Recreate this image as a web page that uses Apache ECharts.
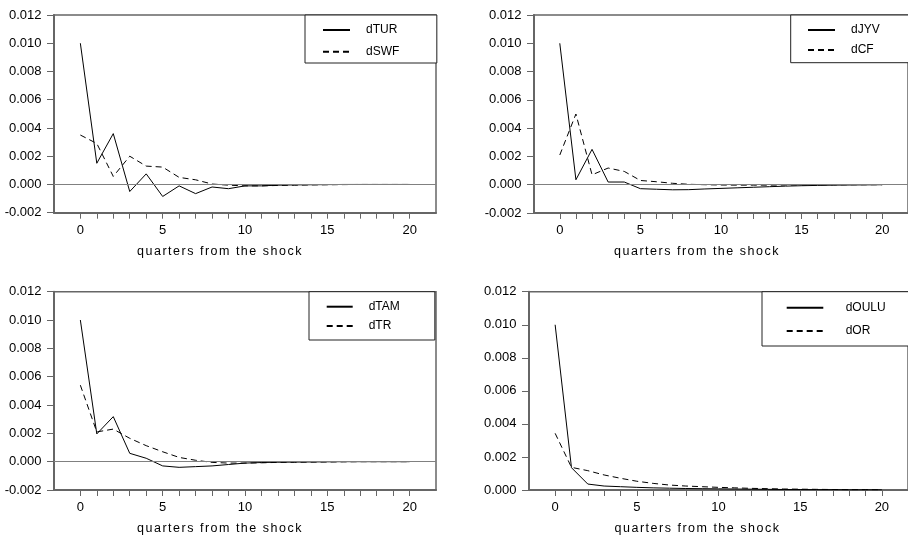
<!DOCTYPE html>
<html>
<head>
<meta charset="utf-8">
<title>Impulse responses</title>
<script src="https://cdn.jsdelivr.net/npm/echarts@6/dist/echarts.min.js"></script>
<style>
  html, body { margin: 0; padding: 0; background: #fff; }
  #chart { width: 908px; height: 540px; }
</style>
</head>
<body>
<div id="chart"></div>
<script>
// Horizon in quarters after the shock
const quarters = [0, 1, 2, 3, 4, 5, 6, 7, 8, 9, 10, 11, 12, 13, 14, 15, 16, 17, 18, 19, 20];

// Responses, one pair per panel
const dTUR  = [0.0100, 0.0015, 0.0036, -0.0005, 0.00075, -0.00085, -0.0001, -0.00065, -0.00018, -0.0003, -0.0001, -0.0001, -0.00005, -0.00003, -0.00002, -0.00001, 0, 0, 0, 0, 0];
const dSWF  = [0.0035, 0.0029, 0.00057, 0.0020, 0.0013, 0.00123, 0.0005, 0.00033, 0.00003, -0.00005, -0.0001, -0.0001, -0.00007, -0.00005, -0.00003, -0.00002, -0.00001, 0, 0, 0, 0];
const dJYV  = [0.0100, 0.00035, 0.0025, 0.00019, 0.00019, -0.00028, -0.00032, -0.00036, -0.00035, -0.0003, -0.00026, -0.00022, -0.00018, -0.00014, -0.0001, -0.00007, -0.00005, -0.00003, -0.00002, -0.00001, 0];
const dCF   = [0.0021, 0.0050, 0.0007, 0.00118, 0.00094, 0.0003, 0.00021, 0.0001, 0.00003, 0, -0.00002, -0.00003, -0.00003, -0.00003, -0.00002, -0.00002, -0.00001, -0.00001, 0, 0, 0];
const dTAM  = [0.0100, 0.00196, 0.00318, 0.00059, 0.00024, -0.0003, -0.0004, -0.00035, -0.0003, -0.0002, -0.0001, -0.00006, -0.00004, -0.00003, -0.00002, -0.00001, 0, 0, 0, 0, 0];
const dTR   = [0.0054, 0.0021, 0.0023, 0.00165, 0.00113, 0.0007, 0.0003, 0.0001, -0.00005, -0.0001, -0.0001, -0.00008, -0.00005, -0.00004, -0.00003, -0.00002, -0.00001, 0, 0, 0, 0];
const dOULU = [0.0100, 0.00135, 0.00036, 0.00024, 0.0002, 0.00016, 0.00013, 0.00011, 0.00009, 0.00008, 0.00007, 0.00006, 0.00005, 0.00004, 0.00003, 0.00003, 0.00002, 0.00002, 0.00001, 0.00001, 0.00001];
const dOR   = [0.00343, 0.00137, 0.00117, 0.00091, 0.00071, 0.00053, 0.0004, 0.0003, 0.00024, 0.0002, 0.00016, 0.00013, 0.0001, 0.00008, 0.00006, 0.00005, 0.00004, 0.00003, 0.00002, 0.00002, 0.00001];

// Tick positions and labels
const xLabelTicks = [0, 5, 10, 15, 20];
const xMinorTicks = quarters;
const xTitle = 'quarters from the shock';

// Each panel: solid series, dashed series, y range
const panels = [
  { solid: ['dTUR', dTUR],   dashed: ['dSWF', dSWF], yMin: -0.002, zeroLine: true },
  { solid: ['dJYV', dJYV],   dashed: ['dCF', dCF],   yMin: -0.002, zeroLine: true },
  { solid: ['dTAM', dTAM],   dashed: ['dTR', dTR],   yMin: -0.002, zeroLine: true },
  { solid: ['dOULU', dOULU], dashed: ['dOR', dOR],   yMin: 0,      zeroLine: false }
];

// Widen the tracking of the axis titles only (canvas supports it, zrender does not expose it)
(function () {
  const proto = CanvasRenderingContext2D.prototype;
  const baseFillText = proto.fillText;
  proto.fillText = function (text, x, y, maxWidth) {
    if (text === xTitle && 'letterSpacing' in this) {
      this.save();
      this.letterSpacing = '1.5px';
      baseFillText.call(this, text, x, y);
      this.restore();
      this.letterSpacing = '0px';
      return;
    }
    if ('letterSpacing' in this && this.letterSpacing !== '0px') this.letterSpacing = '0px';
    if (maxWidth === undefined) return baseFillText.call(this, text, x, y);
    return baseFillText.call(this, text, x, y, maxWidth);
  };
})();

const FONT = '"Liberation Sans", Arial, sans-serif';
const AXIS_COLOR = '#666';

const grids = [
  { left: 54,  top: 15,    width: 382, height: 197.7 },
  { left: 534, top: 15,    width: 381, height: 198 },
  { left: 54,  top: 291.7, width: 382, height: 198.3 },
  { left: 529, top: 291.7, width: 385, height: 198.3 }
];

const legendLayouts = [
  { left: 305,   top: 15,    padding: [9, 37.5, 5.3, 17], itemWidth: 27,   itemGap: 9.7,  textPad: 11 },
  { left: 790.7, top: 15,    padding: [9, 80, 6.7, 16.3], itemWidth: 27,   itemGap: 8,    textPad: 11 },
  { left: 309,   top: 291.7, padding: [9, 35, 8, 16.7],   itemWidth: 26,   itemGap: 7.3,  textPad: 11 },
  { left: 762,   top: 291.7, padding: [10, 80, 9, 23.7],  itemWidth: 36.6, itemGap: 11.3, textPad: 17.4 }
];

const titleShift = [25, 24, 25, 21];

function pairs(values) {
  return quarters.map((q, i) => [q, values[i]]);
}

const option = {
  animation: false,
  backgroundColor: '#fff',
  grid: grids.map(g => Object.assign({
    show: true,
    borderColor: AXIS_COLOR,
    borderWidth: 1.5,
    backgroundColor: 'transparent',
    containLabel: false
  }, g)),
  legend: panels.map((p, i) => {
    const l = legendLayouts[i];
    return {
      orient: 'vertical',
      left: l.left,
      top: l.top,
      padding: l.padding,
      itemWidth: l.itemWidth,
      itemHeight: 12,
      itemGap: l.itemGap,
      borderColor: '#222',
      borderWidth: 1,
      backgroundColor: '#fff',
      selectedMode: false,
      itemStyle: { opacity: 0 },
      data: [p.solid[0], p.dashed[0]],
      textStyle: {
        fontFamily: FONT,
        fontSize: 12,
        color: '#000',
        padding: [0, 0, 0, l.textPad]
      }
    };
  }),
  xAxis: panels.map((p, i) => ({
    type: 'value',
    gridIndex: i,
    min: -1.6,
    max: 21.6,
    splitLine: { show: false },
    axisLine: { show: true, onZero: false, lineStyle: { color: AXIS_COLOR, width: 2 } },
    axisTick: {
      show: true,
      inside: false,
      length: 6,
      customValues: xMinorTicks,
      lineStyle: { color: AXIS_COLOR, width: 1 }
    },
    axisLabel: {
      customValues: xLabelTicks,
      margin: 11,
      fontFamily: FONT,
      fontSize: 13,
      color: '#000'
    },
    name: xTitle,
    nameLocation: 'middle',
    nameGap: 32.5,
    nameTextStyle: {
      fontFamily: FONT,
      fontSize: 12.5,
      color: '#000',
      padding: [0, titleShift[i] * 2, 0, 0]
    }
  })),
  yAxis: panels.map((p, i) => ({
    type: 'value',
    gridIndex: i,
    min: p.yMin,
    max: 0.012,
    interval: 0.002,
    splitLine: { show: false },
    axisLine: { show: true, onZero: false, lineStyle: { color: AXIS_COLOR, width: 2 } },
    axisTick: { show: true, inside: false, length: 7, lineStyle: { color: AXIS_COLOR, width: 1 } },
    axisLabel: {
      margin: 12.5,
      fontFamily: FONT,
      fontSize: 13,
      color: '#000',
      formatter: v => (Math.abs(v) < 1e-9 ? 0 : v).toFixed(3)
    }
  })),
  series: panels.flatMap((p, i) => {
    const solid = {
      name: p.solid[0],
      type: 'line',
      xAxisIndex: i,
      yAxisIndex: i,
      data: pairs(p.solid[1]),
      symbol: 'none',
      showSymbol: false,
      z: 3,
      lineStyle: { color: '#000', width: 1, type: 'solid' },
      itemStyle: { color: '#000' }
    };
    if (p.zeroLine) {
      solid.markLine = {
        silent: true,
        symbol: ['none', 'none'],
        label: { show: false },
        lineStyle: { color: '#808080', width: 1, type: 'solid' },
        data: [{ yAxis: 0 }]
      };
    }
    const dashed = {
      name: p.dashed[0],
      type: 'line',
      xAxisIndex: i,
      yAxisIndex: i,
      data: pairs(p.dashed[1]),
      symbol: 'none',
      showSymbol: false,
      z: 4,
      lineStyle: { color: '#000', width: 1, type: [6, 4] },
      itemStyle: { color: '#000' }
    };
    return [solid, dashed];
  })
};

const chart = echarts.init(document.getElementById('chart'), null, { renderer: 'canvas' });
chart.setOption(option);
</script>
</body>
</html>
